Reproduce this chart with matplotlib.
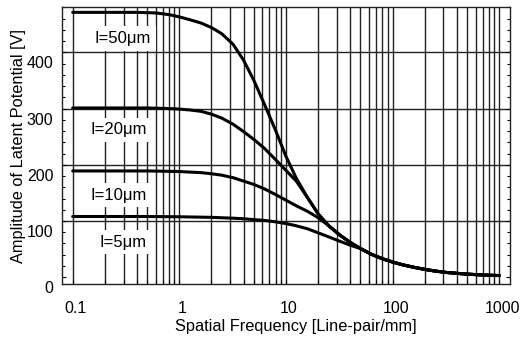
import matplotlib
matplotlib.use("Agg")
import matplotlib.pyplot as plt
from matplotlib.transforms import ScaledTranslation

plt.rcParams['font.family'] = ['Liberation Sans', 'DejaVu Sans']

# Spatial frequency [line-pair/mm] and latent potential amplitude [V] per layer thickness
freq_50 = [0.1, 0.2, 0.4, 0.6, 0.8, 1.0, 1.25, 1.6, 2.0, 2.5, 3.2, 4.0, 5.0, 6.3, 8.0, 10,
           12.5, 16, 20, 25, 32, 40, 50, 63, 80, 100, 125, 160, 200, 250, 320, 400, 500,
           630, 800, 1000]
amp_50 = [471, 471, 471, 470, 467, 463, 458, 452, 444, 433, 414, 386, 350, 307, 261, 215,
          176, 141, 113, 92, 75, 62, 51, 41, 33, 27, 22, 17.5, 14, 11, 8.5, 7, 5.5,
          4.5, 3.5, 3]

freq_20 = [0.1, 0.5, 0.8, 1.0, 1.25, 1.6, 2.0, 2.5, 3.2, 4.0, 5.0, 6.3, 8.0, 10, 12.5,
           16, 20, 25, 32, 40, 50, 63, 80, 100, 125, 160, 200, 250, 320, 400, 500,
           630, 800, 1000]
amp_20 = [301, 301, 300, 299, 297.5, 295, 290, 283, 272, 259, 245, 229, 209, 190, 171,
          141, 113, 92, 75, 62, 51, 41, 33, 27, 22, 17.5, 14, 11, 8.5, 7, 5.5,
          4.5, 3.5, 3]

freq_10 = [0.1, 0.5, 1.0, 1.25, 1.6, 2.0, 2.5, 3.2, 4.0, 5.0, 6.3, 8.0, 10, 12.5, 16, 20,
           25, 32, 40, 50, 63, 80, 100, 125, 160, 200, 250, 320, 400, 500, 630, 800, 1000]
amp_10 = [189, 189, 188, 187, 186, 184, 181.5, 177, 171, 165, 157, 147, 137, 127, 117, 106,
          92, 75, 62, 51, 41, 33, 27, 22, 17.5, 14, 11, 8.5, 7, 5.5, 4.5, 3.5, 3]

freq_5 = [0.1, 0.5, 1.0, 2.0, 3.2, 4.0, 5.0, 6.3, 8.0, 10, 12.5, 16, 20, 25, 32, 40, 50,
          63, 80, 100, 125, 160, 200, 250, 320, 400, 500, 630, 800, 1000]
amp_5 = [108, 108, 107.5, 106.5, 105, 104, 102.5, 101, 98.5, 95.5, 91.5, 86, 79, 72, 64, 57, 51,
         41, 33, 27, 22, 17.5, 14, 11, 8.5, 7, 5.5, 4.5, 3.5, 3]

series = [
    ("I=50μm", freq_50, amp_50, (0.296, 425)),
    ("I=20μm", freq_20, amp_20, (0.272, 262)),
    ("I=10μm", freq_10, amp_10, (0.272, 146)),
    ("I=5μm", freq_5, amp_5, (0.296, 62.6)),
]

x_major = [0.1, 1, 10, 100, 1000]
x_major_labels = ["0.1", "1", "10", "100", "1000"]
x_minor = [m * d for d in (0.1, 1, 10, 100) for m in range(2, 10)]
y_major = [0, 100, 200, 300, 400]
y_minor = list(range(0, 481, 20))
y_grid = [100, 200, 300, 400]

fig = plt.figure(figsize=(5.23, 3.38), dpi=100)
ax = fig.add_axes([0.118, 0.1598, 0.857, 0.8186])

ax.set_xscale('log')
ax.set_xlim(0.0789, 1260)
ax.set_ylim(-12, 480)

ax.set_xticks(x_major, labels=x_major_labels)
ax.set_xticks(x_minor, minor=True)
ax.set_yticks(y_major, labels=[str(v) for v in y_major])
ax.set_yticks(y_minor, minor=True)

grid_kw = dict(color='#222222', linewidth=1.0, zorder=1)
ax.grid(True, which='both', axis='x', **grid_kw)
for yv in y_grid:
    ax.axhline(yv, **grid_kw)

ax.tick_params(axis='both', which='both', direction='in', left=True, right=True,
               top=False, bottom=True, labelsize=11.5, colors='black')
ax.tick_params(axis='y', which='minor', length=2.5, width=0.8)
ax.tick_params(axis='y', which='major', length=3, width=0.8, pad=6)
ax.tick_params(axis='x', which='both', length=3, width=0.8, pad=12)

# shift tick labels slightly
dy = ScaledTranslation(0, -10 / 100, fig.dpi_scale_trans)
for lab in ax.get_yticklabels():
    lab.set_transform(lab.get_transform() + dy)
dx = ScaledTranslation(3 / 100, 0, fig.dpi_scale_trans)
for lab in ax.get_xticklabels():
    lab.set_transform(lab.get_transform() + dx)

for name, fx, fy, (lx, ly) in series:
    ax.plot(fx, fy, color='black', linewidth=2.2, zorder=4,
            solid_capstyle='round', solid_joinstyle='round')
    ax.text(lx, ly, name, fontsize=12, ha='center', va='center', zorder=3,
            bbox=dict(facecolor='white', edgecolor='none', pad=3.5))

for sp in ax.spines.values():
    sp.set_linewidth(1.0)
    sp.set_color('#222222')

ax.set_xlabel("Spatial Frequency [Line-pair/mm]", fontsize=11.8)
ax.set_ylabel("Amplitude of Latent Potential [V]", fontsize=11.8)
ax.xaxis.set_label_coords(0.5226, -0.128)
ax.yaxis.set_label_coords(-0.080, 0.5)

fig.savefig("out.png", dpi=100)
